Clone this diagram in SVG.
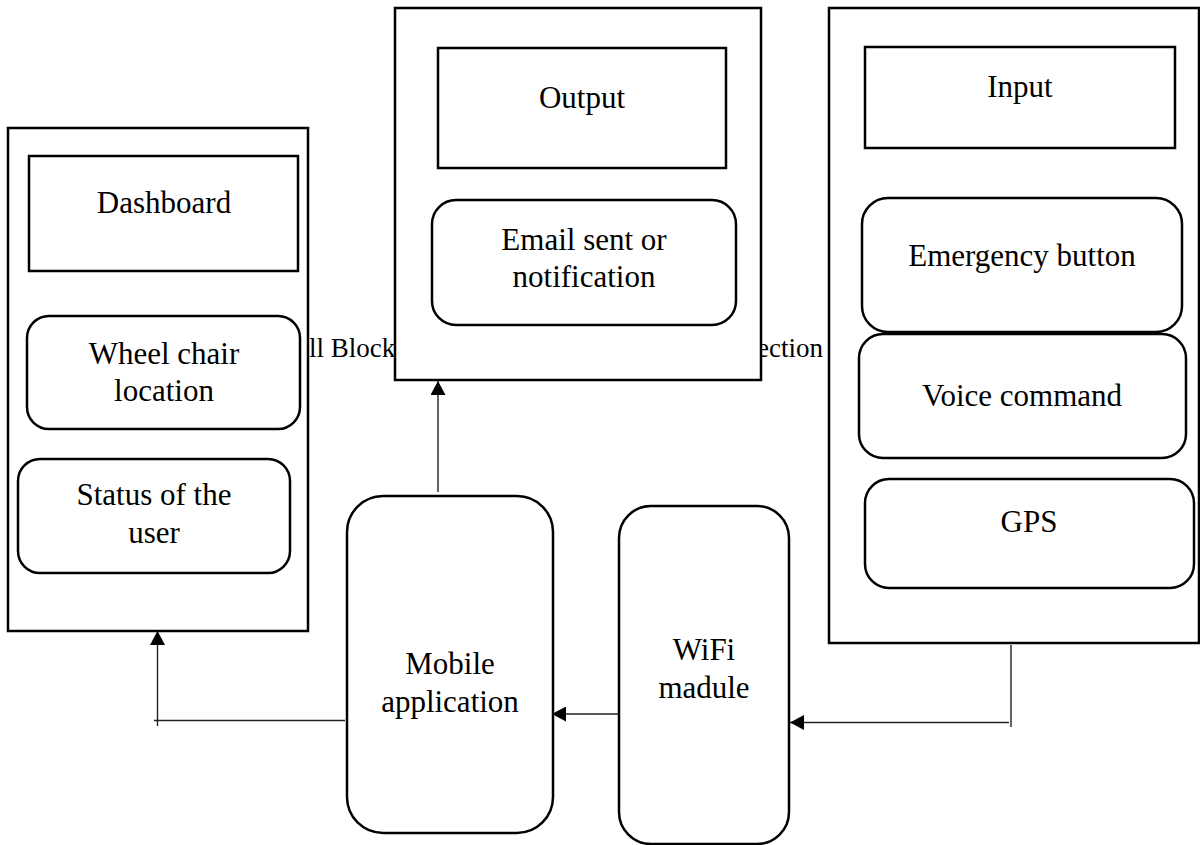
<svg xmlns="http://www.w3.org/2000/svg" width="1200" height="845" viewBox="0 0 1200 845">
<defs>
<style>
.box{fill:#fff;stroke:#000;stroke-width:2.5}
.t{font-family:"Liberation Serif","Times New Roman",serif;font-size:31px;fill:#000;text-anchor:middle}
.bg{font-family:"Liberation Serif","Times New Roman",serif;font-size:27px;fill:#000}
.c{fill:none;stroke:#222;stroke-width:1.4}
</style>
<marker id="ah" markerWidth="14" markerHeight="15" viewBox="0 0 14 15" refX="14" refY="7.5" orient="auto" markerUnits="userSpaceOnUse">
<path d="M0,0 L14,7.5 L0,15 z" fill="#000"/>
</marker>
</defs>
<rect width="1200" height="845" fill="#fff"/>
<g id="caption">
<text class="bg" x="309" y="357">ll Block</text>
<text class="bg" x="823" y="357" text-anchor="end">ection</text>
</g>
<g id="dashboard">
<rect class="box" x="8" y="128" width="300" height="503"/>
<rect class="box" x="29" y="156" width="269" height="115"/>
<text class="t" x="164" y="213">Dashboard</text>
</g>
<g id="wheelchair-location">
<rect class="box" x="27" y="316" width="273" height="113" rx="22"/>
<text class="t" x="164" y="364">Wheel chair</text>
<text class="t" x="164" y="401">location</text>
</g>
<g id="status-user">
<rect class="box" x="18" y="459" width="272" height="114" rx="22"/>
<text class="t" x="154" y="505">Status of the</text>
<text class="t" x="154" y="543">user</text>
</g>
<g id="output">
<rect class="box" x="395" y="8" width="366" height="372"/>
<rect class="box" x="438" y="48" width="288" height="120"/>
<text class="t" x="582" y="108">Output</text>
</g>
<g id="email">
<rect class="box" x="432" y="200" width="304" height="125" rx="24"/>
<text class="t" x="584" y="250">Email sent or</text>
<text class="t" x="584" y="287">notification</text>
</g>
<g id="input">
<rect class="box" x="829" y="8" width="370" height="635"/>
<rect class="box" x="865" y="47" width="310" height="101"/>
<text class="t" x="1020" y="97">Input</text>
</g>
<g id="emergency-button">
<rect class="box" x="862" y="198" width="320" height="134" rx="26"/>
<text class="t" x="1022" y="266">Emergency button</text>
</g>
<g id="voice-command">
<rect class="box" x="859" y="334" width="327" height="124" rx="24"/>
<text class="t" x="1022" y="406">Voice command</text>
</g>
<g id="gps">
<rect class="box" x="865" y="479" width="329" height="109" rx="24"/>
<text class="t" x="1029" y="532">GPS</text>
</g>
<g id="mobile-application">
<rect class="box" x="347" y="496" width="206" height="337" rx="36"/>
<text class="t" x="450" y="674">Mobile</text>
<text class="t" x="450" y="712">application</text>
</g>
<g id="wifi-module">
<rect class="box" x="619" y="506" width="170" height="338" rx="32"/>
<text class="t" x="704" y="660">WiFi</text>
<text class="t" x="704" y="698">madule</text>
</g>
<g id="connectors">
<line class="c" x1="438" y1="492" x2="438" y2="381" marker-end="url(#ah)"/>
<line class="c" x1="345" y1="720.5" x2="154" y2="720.5"/>
<line class="c" x1="157.5" y1="726" x2="157.5" y2="631" marker-end="url(#ah)"/>
<line class="c" x1="618" y1="714" x2="552" y2="714" marker-end="url(#ah)"/>
<line class="c" x1="1011" y1="645" x2="1011" y2="727"/>
<line class="c" x1="1009" y1="722.5" x2="790" y2="722.5" marker-end="url(#ah)"/>
</g>
</svg>
